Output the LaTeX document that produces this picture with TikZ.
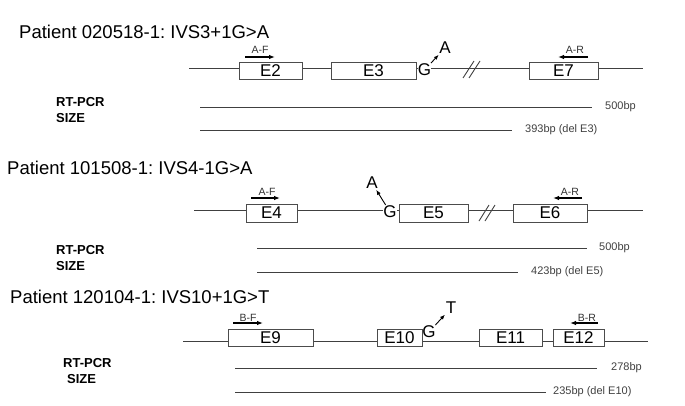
\documentclass[tikz,border=0pt]{standalone}
\usepackage{fontspec}
\setmainfont{Liberation Sans}
\usetikzlibrary{arrows.meta}
\tikzset{title/.style={anchor=west, inner sep=0pt, font=\fontsize{18.5}{20}\selectfont}}
\tikzset{gene/.style={line width=0.9pt, black!75}}
\tikzset{exon/.style={draw=black!70, line width=0.9pt, fill=white, inner sep=0pt, minimum height=17pt, font=\fontsize{17}{17}\selectfont}}
\tikzset{base/.style={inner sep=0pt, font=\fontsize{17}{17}\selectfont}}
\tikzset{mutarrow/.style={-{Latex[length=5pt,width=4pt]}, line width=0.9pt, shorten <=1pt, shorten >=1pt}}
\tikzset{plabel/.style={inner sep=0pt, font=\fontsize{10.5}{11}\selectfont, black!80}}
\tikzset{primer/.style={-{Latex[length=6pt,width=4.5pt]}, line width=1.1pt}}
\tikzset{rt/.style={anchor=west, inner sep=0pt, font=\bfseries\fontsize{13}{13}\selectfont}}
\tikzset{band/.style={line width=0.9pt, black!75}}
\tikzset{bp/.style={anchor=west, inner sep=0pt, font=\fontsize{11}{11}\selectfont, black!75}}
\tikzset{slash/.style={line width=0.9pt, black!75}}

\begin{document}
\frenchspacing
\begin{tikzpicture}[x=1pt, y=-1pt]
  \useasboundingbox (0,0) rectangle (685,405);
  % patient 020518-1
  \node[title] (t1) at (19,32) {Patient 020518-1: IVS3+1G>A};
  \coordinate (g1l) at (189,68);
  \coordinate (g1r) at (643,68);
  \draw[gene] (g1l) -- (g1r);
  \draw[slash] (463,78) -- (474,61) (469,78) -- (480,61);
  \node[exon, minimum width=63pt] (e2) at (270.5,70.5) {E2};
  \node[exon, minimum width=85pt] (e3) at (373.5,70.5) {E3};
  \node[exon, minimum width=69pt] (e7) at (563.5,70.5) {E7};
  \node[base, fill=white] (g1) at (424.5,70) {G};
  \node[base] (a1) at (445,48) {A};
  \draw[mutarrow] (g1) -- (a1);
  \node[plabel] (af1) at (260,50) {A-F};
  \coordinate (af1s) at (245,57);
  \coordinate (af1e) at (275,57);
  \draw[primer] (af1s) -- (af1e);
  \node[plabel] (ar1) at (575,50) {A-R};
  \coordinate (ar1s) at (588,57);
  \coordinate (ar1e) at (558,57);
  \draw[primer] (ar1s) -- (ar1e);
  \node[rt] (rt1) at (56,102) {RT-PCR};
  \node[rt] (sz1) at (56,118) {SIZE};
  \coordinate (b1a) at (200,107);
  \coordinate (b1b) at (592,107);
  \draw[band] (b1a) -- (b1b);
  \node[bp] (bp1a) at (605,107) {500bp};
  \coordinate (b1c) at (200,130);
  \coordinate (b1d) at (512,130);
  \draw[band] (b1c) -- (b1d);
  \node[bp] (bp1b) at (525,130) {393bp (del E3)};

  % patient 101508-1
  \node[title] (t2) at (7,168) {Patient 101508-1: IVS4-1G>A};
  \coordinate (g2l) at (194,210);
  \coordinate (g2r) at (643,210);
  \draw[gene] (g2l) -- (g2r);
  \draw[slash] (479,221) -- (489,205) (485,221) -- (495,205);
  \node[exon, minimum width=51pt, minimum height=18pt] (e4) at (271.5,213) {E4};
  \node[exon, minimum width=69pt, minimum height=18pt] (e5) at (433.5,213) {E5};
  \node[exon, minimum width=74pt, minimum height=18pt] (e6) at (550,213) {E6};
  \node[base, fill=white] (g2) at (390,212) {G};
  \node[base] (a2) at (372,183) {A};
  \draw[mutarrow] (g2) -- (a2);
  \node[plabel] (af2) at (267,192) {A-F};
  \coordinate (af2s) at (251,198);
  \coordinate (af2e) at (280,198);
  \draw[primer] (af2s) -- (af2e);
  \node[plabel] (ar2) at (570,192) {A-R};
  \coordinate (ar2s) at (582,198);
  \coordinate (ar2e) at (553,198);
  \draw[primer] (ar2s) -- (ar2e);
  \node[rt] (rt2) at (56,250) {RT-PCR};
  \node[rt] (sz2) at (56,266) {SIZE};
  \coordinate (b2a) at (257,248);
  \coordinate (b2b) at (587,248);
  \draw[band] (b2a) -- (b2b);
  \node[bp] (bp2a) at (599,248) {500bp};
  \coordinate (b2c) at (257,272);
  \coordinate (b2d) at (518,272);
  \draw[band] (b2c) -- (b2d);
  \node[bp] (bp2b) at (531,272) {423bp (del E5)};

  % patient 120104-1
  \node[title] (t3) at (10,297) {Patient 120104-1: IVS10+1G>T};
  \coordinate (g3l) at (183,341);
  \coordinate (g3r) at (648,341);
  \draw[gene] (g3l) -- (g3r);
  \node[exon, minimum width=85pt] (e9) at (270.5,337.5) {E9};
  \node[exon, minimum width=45pt] (e10) at (399.5,337.5) {E10};
  \node[exon, minimum width=63pt] (e11) at (510.5,337.5) {E11};
  \node[exon, minimum width=51pt] (e12) at (578.5,337.5) {E12};
  \node[base] (g3) at (429,332) {G};
  \node[base] (t3m) at (451,308) {T};
  \draw[mutarrow] (g3) -- (t3m);
  \node[plabel] (bf3) at (248,318) {B-F};
  \coordinate (bf3s) at (233,323);
  \coordinate (bf3e) at (263,323);
  \draw[primer] (bf3s) -- (bf3e);
  \node[plabel] (br3) at (587,318) {B-R};
  \coordinate (br3s) at (598,323);
  \coordinate (br3e) at (570,323);
  \draw[primer] (br3s) -- (br3e);
  \node[rt] (rt3) at (63,363) {RT-PCR};
  \node[rt] (sz3) at (67,379) {SIZE};
  \coordinate (b3a) at (235,368);
  \coordinate (b3b) at (597,368);
  \draw[band] (b3a) -- (b3b);
  \node[bp] (bp3a) at (611,368) {278bp};
  \coordinate (b3c) at (235,392);
  \coordinate (b3d) at (546,392);
  \draw[band] (b3c) -- (b3d);
  \node[bp] (bp3b) at (553,392) {235bp (del E10)};
\end{tikzpicture}
\end{document}
